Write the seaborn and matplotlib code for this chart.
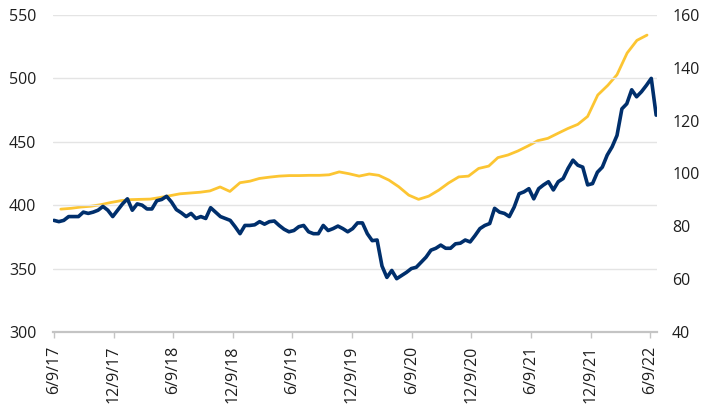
import matplotlib
matplotlib.use("Agg")
import matplotlib.pyplot as plt
import seaborn as sns
import pandas as pd

# navy series (left axis), one reading every 15 days from 6/9/17
navy_start = "2017-06-09"
navy_step = "15D"
navy_values = [
    388, 387, 388, 391, 391, 391, 394.5, 393.5, 394.5, 396,
    399, 396, 391, 396, 401, 405, 396, 401, 400, 397,
    397, 403.5, 404.5, 407, 402.5, 396.5, 394, 391, 393.5, 389.5,
    391, 389.5, 398, 394.5, 391, 389.5, 388, 383, 377.5, 384,
    384, 384.5, 387, 385, 387, 387.5, 384, 381, 379, 380,
    383, 384, 379, 377.5, 377.5, 384, 380, 381.5, 383.5, 381.5,
    379, 381.5, 386, 386, 377.5, 372, 372.5, 352, 343, 348.5,
    342, 344.5, 347, 350, 351, 355, 359, 364.5, 366, 368.5,
    366, 366, 369.5, 370, 372.5, 371, 376, 381.5, 384, 385.5,
    397.5, 394.5, 393.5, 391, 398.5, 409, 410.5, 413, 405, 413,
    416, 418.5, 412, 418.5, 421, 429, 435.5, 431.5, 430, 416,
    417, 426, 430, 439.5, 446, 455, 476, 480, 491, 485.5,
    489.5, 494.5, 500, 471,
]

# yellow series (right axis), month-end values from Jun 2017 to May 2022
yellow_first_month = "2017-07-01"
yellow_values = [
    86.5, 86.8, 87.3, 87.6, 88.2, 89.0, 89.7, 90.1, 90.2, 90.3,
    90.9, 91.6, 92.3, 92.6, 92.9, 93.4, 94.9, 93.2, 96.5, 97.1,
    98.1, 98.6, 99.0, 99.2, 99.2, 99.3, 99.3, 99.5, 100.6, 99.9,
    99.0, 99.8, 99.3, 97.5, 95.0, 91.8, 90.2, 91.4, 93.7, 96.4,
    98.7, 99.0, 101.9, 102.8, 106.0, 107.0, 108.5, 110.4, 112.4, 113.3,
    115.2, 117.0, 118.6, 121.6, 129.7, 133.4, 137.4, 145.6, 150.4, 152.4,
]

tick_dates = ["2017-06-09", "2017-12-09", "2018-06-09", "2018-12-09",
              "2019-06-09", "2019-12-09", "2020-06-09", "2020-12-09",
              "2021-06-09", "2021-12-09", "2022-06-09"]
tick_labels = ["6/9/17", "12/9/17", "6/9/18", "12/9/18", "6/9/19",
               "12/9/19", "6/9/20", "12/9/20", "6/9/21", "12/9/21", "6/9/22"]
left_ticks = [300, 350, 400, 450, 500, 550]
right_ticks = [40, 60, 80, 100, 120, 140, 160]

NAVY = "#002f6c"
YELLOW = "#fcc532"
GREY = "#c4c4c4"
TEXT = "#1e1e1e"

sns.set_theme(style="white")
plt.rcParams["font.family"] = ["Open Sans", "DejaVu Sans"]

navy = pd.DataFrame({
    "date": pd.date_range(navy_start, periods=len(navy_values), freq=navy_step),
    "value": navy_values,
})
yellow = pd.DataFrame({
    "date": pd.date_range(yellow_first_month, periods=len(yellow_values), freq="MS")
            - pd.Timedelta(days=1),
    "value": yellow_values,
})

fig = plt.figure(figsize=(7.18, 4.17), dpi=100)
ax = fig.add_axes([0.0738, 0.204, 0.841, 0.760])
ax2 = ax.twinx()

sns.lineplot(data=yellow, x="date", y="value", ax=ax2, color=YELLOW, linewidth=2.0)
sns.lineplot(data=navy, x="date", y="value", ax=ax, color=NAVY, linewidth=2.6)

# navy on top of yellow
ax.set_zorder(ax2.get_zorder() + 1)
ax.patch.set_visible(False)

ax.set_xlim(pd.Timestamp("2017-06-06"), pd.Timestamp("2022-06-30"))
ax.set_ylim(300, 550)
ax2.set_ylim(40, 160)
ax.set_yticks(left_ticks)
ax2.set_yticks(right_ticks)
ax.set_xticks(pd.to_datetime(tick_dates))
ax.set_xticklabels(tick_labels)

for a in (ax, ax2):
    a.set_xlabel("")
    a.set_ylabel("")
    for side in ("top", "left", "right", "bottom"):
        a.spines[side].set_visible(False)
ax.spines["bottom"].set_visible(True)
ax.spines["bottom"].set_color(GREY)
ax.spines["bottom"].set_linewidth(1.6)

ax.yaxis.grid(True, color="#e4e4e4", linewidth=1)
ax.xaxis.grid(False)

ax.tick_params(axis="x", bottom=True, length=4, width=1, color=GREY, pad=6,
               labelrotation=90, labelsize=11.5, labelcolor=TEXT)
ax.tick_params(axis="y", length=0, pad=12, labelsize=11.5, labelcolor=TEXT)
ax2.tick_params(axis="y", length=0, pad=11, labelsize=11.5, labelcolor=TEXT)

fig.savefig("out.png", dpi=100)
plt.close(fig)
